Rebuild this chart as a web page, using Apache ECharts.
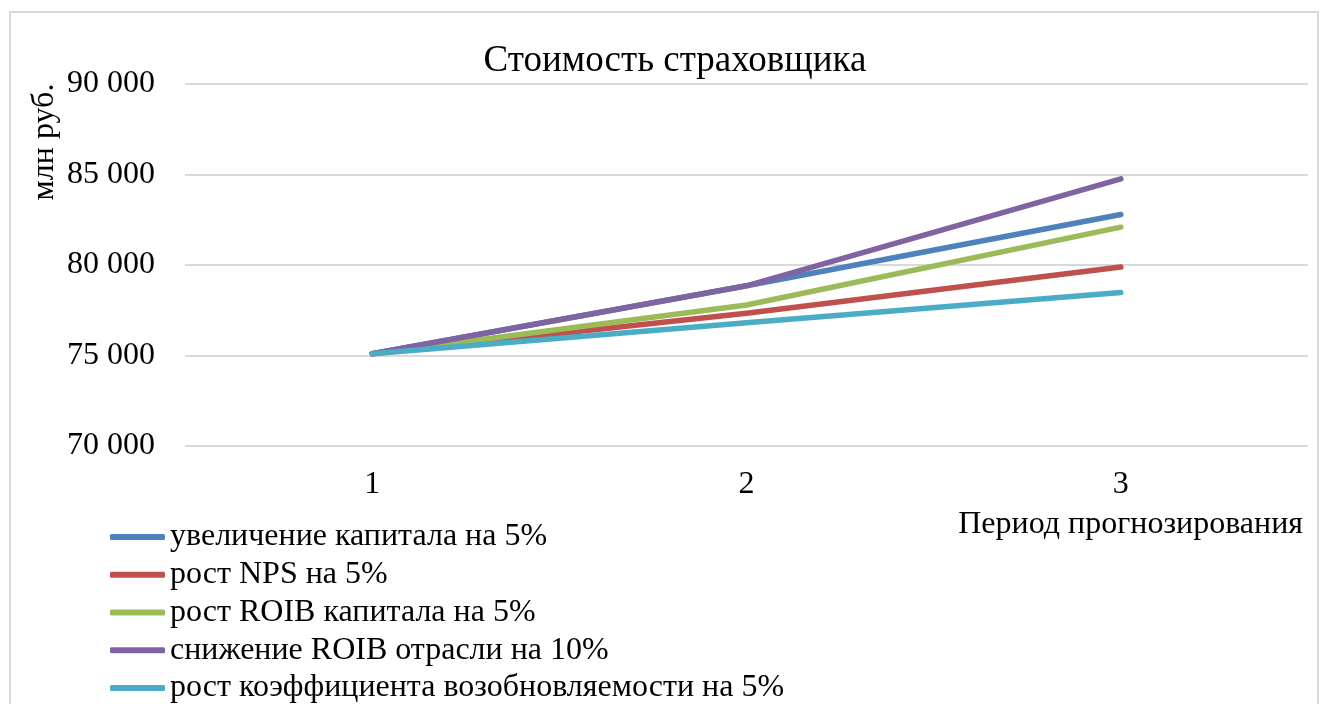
<!DOCTYPE html>
<html><head><meta charset="utf-8">
<script src="https://cdn.jsdelivr.net/npm/echarts@6/dist/echarts.min.js"></script>
<style>html,body{margin:0;padding:0;background:#fff}#c{width:1328px;height:704px}</style>
</head><body><div id="c"></div>
<script>
const categories = ['1', '2', '3'];
const seriesNames = [
  'увеличение капитала на 5%',
  'рост NPS на 5%',
  'рост ROIB капитала на 5%',
  'снижение ROIB отрасли на 10%',
  'рост коэффициента возобновляемости на 5%'
];
const capital5 = [75100, 78850, 82790];
const nps5 = [75100, 77330, 79890];
const roibCap5 = [75100, 77790, 82090];
const roibInd10 = [75100, 78850, 84760];
const renewal5 = [75100, 76810, 78480];
const yTicks = [70000, 75000, 80000, 85000, 90000];
const colors = ['#4F81BD', '#C0504D', '#9BBB59', '#8064A2', '#4BACC6'];
const values = [capital5, nps5, roibCap5, roibInd10, renewal5];

const FONT = 'Liberation Serif';
const chart = echarts.init(document.getElementById('c'));
chart.setOption({
  animation: false,
  color: colors,
  textStyle: { fontFamily: FONT, color: '#000' },
  title: {
    text: 'Стоимость страховщика',
    left: 670, textAlign: 'center', top: 38,
    textStyle: { fontFamily: FONT, fontSize: 37, fontWeight: 'normal', color: '#000' }
  },
  graphic: [
    { type: 'rect', shape: { x: 10, y: 12, width: 1308, height: 800 },
      style: { fill: 'none', stroke: '#d9d9d9', lineWidth: 2 }, silent: true },
    { type: 'text', x: 45, y: 142, rotation: Math.PI / 2,
      style: { text: 'млн руб.', fontFamily: FONT, fontSize: 32, fill: '#000', align: 'center', verticalAlign: 'middle' } },
    { type: 'text', x: 1303, y: 525,
      style: { text: 'Период прогнозирования', fontFamily: FONT, fontSize: 32, fill: '#000', align: 'right', verticalAlign: 'middle' } }
  ],
  grid: { left: 185, right: 20, top: 84, bottom: 258, outerBoundsMode: 'none', containLabel: false },
  legend: {
    orient: 'vertical', left: 110, top: 521, padding: 0,
    icon: 'roundRect', itemWidth: 55, itemHeight: 6, itemGap: 5.75,
    textStyle: { fontFamily: FONT, fontSize: 32, color: '#000', lineHeight: 32 },
    data: seriesNames
  },
  xAxis: {
    type: 'category', data: categories, boundaryGap: true,
    axisLine: { show: false }, axisTick: { show: false },
    axisLabel: { fontFamily: FONT, fontSize: 32, color: '#000', margin: 23 }
  },
  yAxis: {
    type: 'value', min: 70000, max: 90000, interval: 5000,
    axisLine: { show: false }, axisTick: { show: false },
    splitLine: { lineStyle: { color: '#d9d9d9', width: 2 } },
    axisLabel: {
      fontFamily: FONT, fontSize: 32, color: '#000', margin: 30,
      formatter: v => String(v).replace(/\B(?=(\d{3})+(?!\d))/g, ' ')
    }
  },
  series: seriesNames.map((n, i) => ({
    name: n, type: 'line', data: values[i], symbol: 'none',
    lineStyle: { width: 5.5, cap: 'round', join: 'round', color: colors[i] },
    itemStyle: { color: colors[i] }
  }))
});
</script></body></html>
